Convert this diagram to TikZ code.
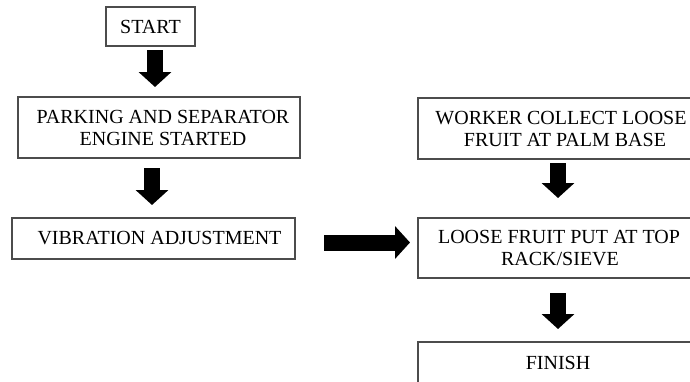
\documentclass[tikz,border=0pt]{standalone}
\usepackage{fontspec}
\setmainfont{Liberation Serif}
\usetikzlibrary{arrows.meta}
\tikzset{
  box/.style={draw=black!70, line width=1.2pt, inner sep=0pt, outer sep=0pt, align=center,
    font=\fontsize{20}{22}\selectfont},
  blockarrow/.style={line width=16pt, -{Triangle[width=32pt,length=15pt]}}
}
\begin{document}
\begin{tikzpicture}[x=1pt,y=-1pt]
\useasboundingbox (0,0) rectangle (690,381);
\clip (0,0) rectangle (690,381);
\node[box, minimum width=89pt, minimum height=39pt] (start) at (150.5,26.5) {START};
\node[box, minimum width=282pt, minimum height=61pt] (park) at (159,127.5)
  {\hspace*{8pt}PARKING AND SEPARATOR\\\hspace*{8pt}ENGINE STARTED};
\node[box, minimum width=283pt, minimum height=41pt] (vib) at (153.5,238.5)
  {\hspace*{12pt}VIBRATION ADJUSTMENT};
\node[box, minimum width=294pt, minimum height=61pt] (worker) at (565,128.5)
  {WORKER COLLECT LOOSE\hspace*{8pt}\\FRUIT AT PALM BASE};
\node[box, minimum width=294pt, minimum height=60pt] (loose) at (565,248)
  {LOOSE FRUIT PUT AT TOP\hspace*{12pt}\\RACK/SIEVE\hspace*{10pt}};
\node[box, minimum width=294pt, minimum height=41pt] (finish) at (565,362.5)
  {FINISH\hspace*{14pt}};
\draw[blockarrow] ([xshift=4.5pt,yshift=-4pt]start.south) -- ([xshift=-4pt,yshift=10pt]park.north);
\draw[blockarrow] ([xshift=-7pt,yshift=-10pt]park.south) -- ([xshift=-1.5pt,yshift=13pt]vib.north);
\draw[blockarrow] ([xshift=29pt,yshift=-4pt]vib.east) -- ([xshift=-8pt,yshift=5.5pt]loose.west);
\draw[blockarrow] ([xshift=-7pt,yshift=-4pt]worker.south) -- ([xshift=-7pt,yshift=20pt]loose.north);
\draw[blockarrow] ([xshift=-7pt,yshift=-15pt]loose.south) -- ([xshift=-7pt,yshift=13pt]finish.north);
\end{tikzpicture}
\end{document}
